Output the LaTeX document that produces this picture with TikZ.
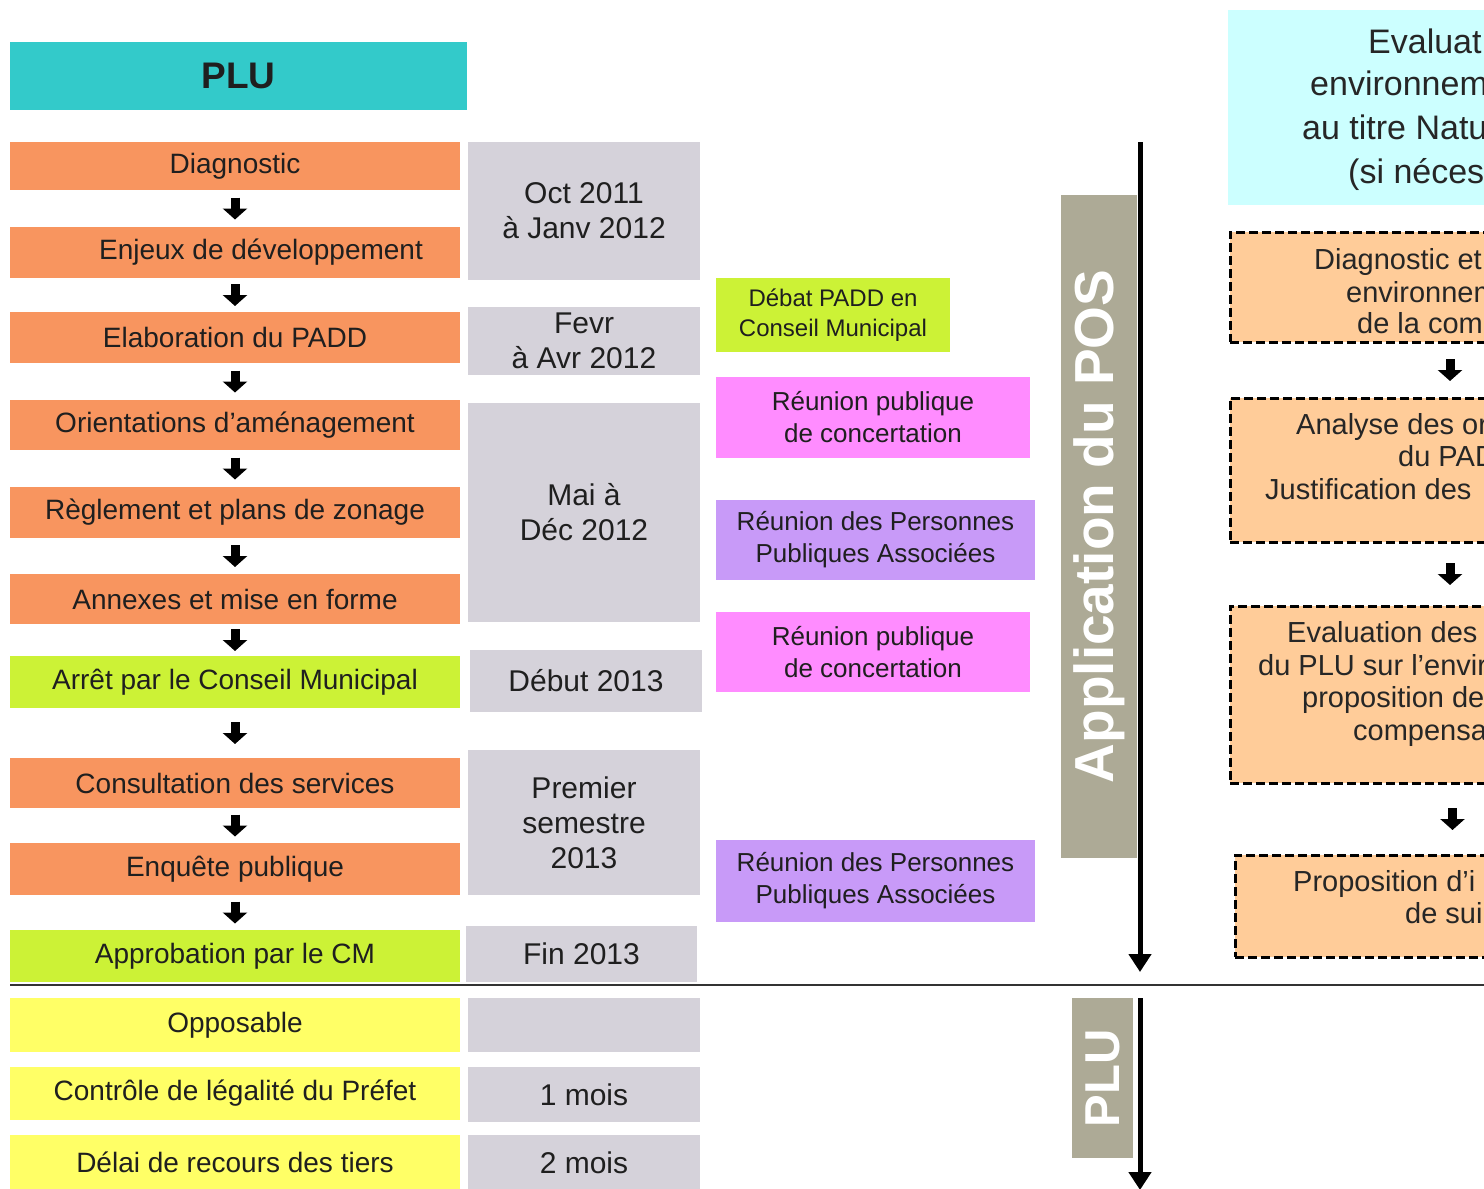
\documentclass[tikz,border=0pt]{standalone}
\usepackage{fontspec}
\setmainfont{Liberation Sans}
\usetikzlibrary{arrows.meta,positioning,calc}
\definecolor{plucyan}{HTML}{33CACA}
\definecolor{pluorange}{HTML}{F8955F}
\definecolor{plugreen}{HTML}{CCF236}
\definecolor{pluyellow}{HTML}{FFFF66}
\definecolor{plugray}{HTML}{D5D2DA}
\definecolor{meetpink}{HTML}{FF8CFF}
\definecolor{meetpurple}{HTML}{C89AF8}
\definecolor{bandgray}{HTML}{ADAA96}
\definecolor{evalcyan}{HTML}{CCFFFF}
\definecolor{evalpeach}{HTML}{FFCC99}
\tikzset{
  cell/.style={rectangle, inner sep=0pt, align=center, text=black!88},
  stage/.style={cell, fill=pluorange, minimum width=450pt, font=\fontsize{28}{33}\selectfont},
  vote/.style={stage, fill=plugreen},
  legal/.style={stage, fill=pluyellow},
  datebox/.style={cell, fill=plugray, minimum width=232pt, font=\fontsize{30}{35}\selectfont},
  meet/.style={cell, font=\fontsize{26}{32}\selectfont},
  band/.style={cell, fill=bandgray, rotate=90, text=white, font=\bfseries\fontsize{55}{60}\selectfont},
  evalbox/.style={cell, fill=evalpeach, draw=black, line width=3pt, dash pattern=on 9pt off 4pt, minimum width=440pt},
  evaltxt/.style={anchor=base west, inner sep=0pt, font=\fontsize{29}{33}\selectfont, text=black!85},
  headtxt/.style={evaltxt, font=\fontsize{34}{40}\selectfont},
  down/.style={-{Triangle[length=11pt,width=24pt]}, line width=9pt, draw=black},
  timeline/.style={-{Triangle[length=18pt,width=22pt]}, line width=5pt, draw=black},
  sep/.style={line width=2pt, draw=black!80},
}
\begin{document}
\begin{tikzpicture}[x=1pt, y=-1pt]
  \useasboundingbox (0,0) rectangle (1484,1189);
  \clip (0,0) rectangle (1484,1189);
  \fill[white] (0,0) rectangle (1484,1189);
  % PLU column
  \node[cell, fill=plucyan, minimum width=457pt, minimum height=68pt, font=\bfseries\fontsize{37}{40}\selectfont] (plu) at (238.5,76) {PLU};
  \node[stage, minimum height=48pt] (diag) at (235,166) {Diagnostic};
  \node[stage, minimum height=51pt] (enj) at (235,252.5) {\hspace*{52pt}Enjeux de développement};
  \node[stage, minimum height=51pt] (padd) at (235,337.5) {Elaboration du PADD};
  \node[stage, minimum height=50pt] (orient) at (235,425) {Orientations d’aménagement};
  \node[stage, minimum height=51pt] (regl) at (235,512.5) {Règlement et plans de zonage};
  \node[stage, minimum height=50pt] (annex) at (235,599) {Annexes et mise en forme};
  \node[vote, minimum height=52pt] (arret) at (235,682) {Arrêt par le Conseil Municipal};
  \node[stage, minimum height=50pt] (consult) at (235,783) {Consultation des services};
  \node[stage, minimum height=52pt] (enq) at (235,869) {Enquête publique};
  \node[vote, minimum height=52pt] (appro) at (235,956) {Approbation par le CM};
  \node[legal, minimum height=54pt] (oppos) at (235,1025) {Opposable};
  \node[legal, minimum height=53pt] (ctrl) at (235,1093.5) {Contrôle de légalité du Préfet};
  \node[legal, minimum height=55pt] (delai) at (235,1162.5) {Délai de recours des tiers};
  % dates
  \node[datebox, minimum height=138pt] (oct) at (584,211) {Oct 2011\\à Janv 2012};
  \node[datebox, minimum height=68pt] (fevr) at (584,341) {Fevr\\à Avr 2012};
  \node[datebox, minimum height=219pt] (mai) at (584,512.5) {Mai à\\Déc 2012};
  \node[datebox, minimum height=62pt] (debut) at (586,681) {Début 2013};
  \node[datebox, minimum height=145pt] (sem) at (584,822.5) {Premier\\semestre\\2013};
  \node[datebox, minimum width=231pt, minimum height=56pt] (fin) at (581.5,954) {Fin 2013};
  \node[datebox, minimum height=54pt] (vide) at (584,1025) {};
  \node[datebox, minimum height=55pt] (mois1) at (584,1094.5) {1 mois};
  \node[datebox, minimum height=55pt] (mois2) at (584,1162.5) {2 mois};
  % meetings
  \node[meet, fill=plugreen, minimum width=234pt, minimum height=74pt, font=\fontsize{24}{30}\selectfont] (debat) at (833,315) {Débat PADD en\\Conseil Municipal};
  \node[meet, fill=meetpink, minimum width=314pt, minimum height=81pt] (pub1) at (873,417.5) {Réunion publique\\de concertation};
  \node[meet, fill=meetpurple, minimum width=319pt, minimum height=80pt] (ppa1) at (875.5,540) {Réunion des Personnes\\Publiques Associées};
  \node[meet, fill=meetpink, minimum width=314pt, minimum height=80pt] (pub2) at (873,652) {Réunion publique\\de concertation};
  \node[meet, fill=meetpurple, minimum width=319pt, minimum height=82pt] (ppa2) at (875.5,881) {Réunion des Personnes\\Publiques Associées};
  % timeline
  \node[band, minimum width=663pt, minimum height=76pt] (pos) at (1099,526.5) {Application du POS};
  \node[band, minimum width=160pt, minimum height=61pt, font=\bfseries\fontsize{49}{54}\selectfont] (pluband) at (1102.5,1078) {PLU};
  \coordinate (t0) at (1140,142);
  \coordinate (t1) at (1140,972);
  \coordinate (t2) at (1140,998);
  \coordinate (t3) at (1140,1190);
  \draw[timeline] (t0) -- (t1);
  \draw[timeline] (t2) -- (t3);
  \draw[sep] (10,985) -- (1484,985);
  % evaluation column
  \node[cell, fill=evalcyan, minimum width=440pt, minimum height=195pt] (evhead) at (1448,107.5) {};
  \node[headtxt] (eh1) at (1368,53) {Evaluat};
  \node[headtxt] (eh2) at (1310,95) {environnem};
  \node[headtxt] (eh3) at (1302,139) {au titre Natu};
  \node[headtxt] (eh4) at (1348,183) {(si nécess};
  \node[evalbox, minimum height=110pt] (rb1) at (1450,287) {};
  \node[evaltxt] (r1a) at (1314,269) {Diagnostic et};
  \node[evaltxt] (r1b) at (1346,302) {environnem};
  \node[evaltxt] (r1c) at (1357,333) {de la comm};
  \node[evalbox, minimum height=144pt] (rb2) at (1450,470) {};
  \node[evaltxt] (r2a) at (1296,434) {Analyse des or};
  \node[evaltxt] (r2b) at (1398,466) {du PAD};
  \node[evaltxt] (r2c) at (1265,499) {Justification des};
  \node[evalbox, minimum height=177pt] (rb3) at (1450,694.5) {};
  \node[evaltxt] (r3a) at (1287,642) {Evaluation des};
  \node[evaltxt] (r3b) at (1258,675) {du PLU sur l’envir};
  \node[evaltxt] (r3c) at (1302,707) {proposition de};
  \node[evaltxt] (r3d) at (1353,740) {compensa};
  \node[evalbox, minimum height=102pt] (rb4) at (1455,906) {};
  \node[evaltxt] (r4a) at (1293,891) {Proposition d’i};
  \node[evaltxt] (r4b) at (1405,923) {de sui};
  % small arrows
  \foreach \a/\b in {diag/enj, enj/padd, padd/orient, orient/regl, regl/annex, annex/arret, arret/consult, consult/enq, enq/appro, rb1/rb2, rb2/rb3, rb3/rb4}
    \draw[down] ($(\a.south)!0.5!(\b.north)+(0,-11)$) -- ++(0,22);
\end{tikzpicture}
\end{document}
